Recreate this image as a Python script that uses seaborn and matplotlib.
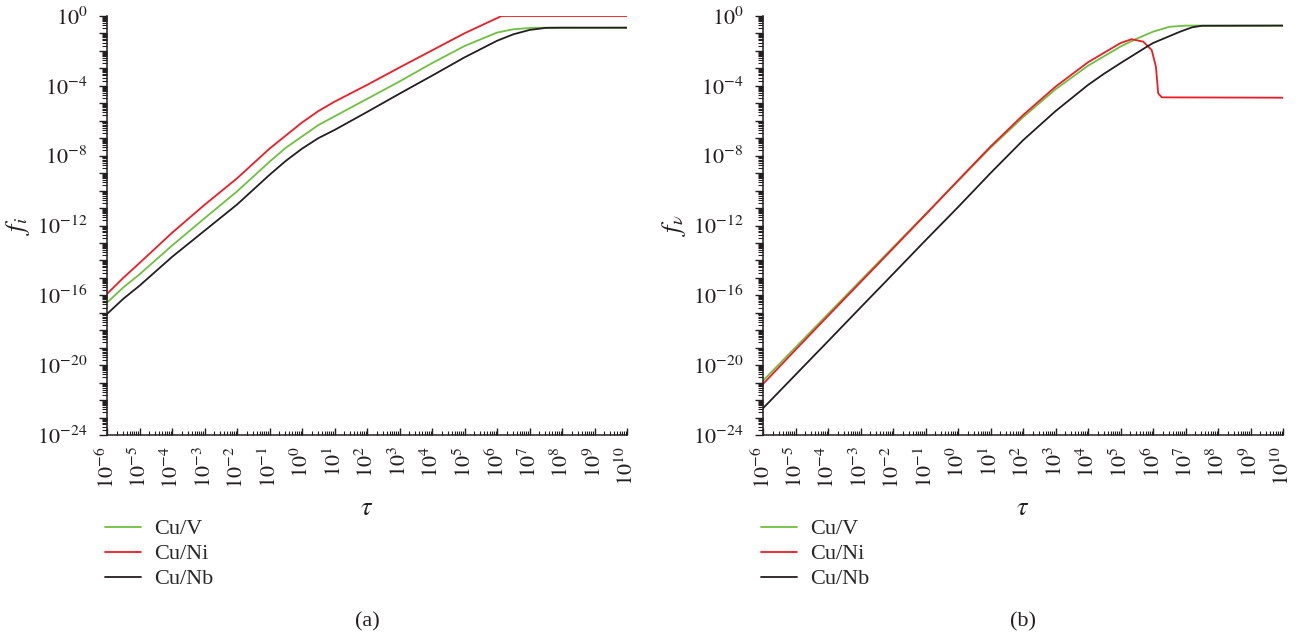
import numpy as np
import matplotlib
matplotlib.use("Agg")
import matplotlib.pyplot as plt
from matplotlib.ticker import LogLocator, FixedLocator, FuncFormatter, NullFormatter
import seaborn as sns

# ---- data (log10 values per series) ----
series_names = ["Cu/V", "Cu/Ni", "Cu/Nb"]
series_colors = ["#6fc040", "#ee1d25", "#231f20"]

# panel (a): interstitial fraction f_i vs tau
a_v_logtau = [-6, -5.5, -5, -4, -3, -2, -1, -0.5, 0, 0.5, 1, 2, 3, 4, 5, 6, 6.5, 7, 7.4, 10]
a_v_logf = [-16.42, -15.55, -14.8, -13.15, -11.59, -10.05, -8.35, -7.55, -6.9, -6.25, -5.75,
            -4.75, -3.75, -2.7, -1.72, -0.95, -0.76, -0.69, -0.67, -0.67]
a_ni_logtau = [-6, -5.5, -5, -4, -3, -2, -1, -0.5, 0, 0.5, 1, 2, 3, 4, 5, 6.14, 10]
a_ni_logf = [-15.92, -15.0, -14.15, -12.42, -10.82, -9.3, -7.6, -6.85, -6.1, -5.45, -4.91,
             -3.95, -2.95, -1.97, -0.99, 0.0, 0.0]
a_nb_logtau = [-6, -5.5, -5, -4, -3, -2, -1, -0.5, 0, 0.5, 1, 2, 3, 4, 5, 6, 6.5, 7, 7.5, 8, 10]
a_nb_logf = [-17.07, -16.2, -15.45, -13.8, -12.3, -10.8, -9.1, -8.3, -7.6, -7.0, -6.53,
             -5.5, -4.45, -3.42, -2.37, -1.42, -1.05, -0.8, -0.68, -0.67, -0.67]

# panel (b): vacancy fraction f_v vs tau
b_v_logtau = [-6, -5, -4, -3, -2, -1, 0, 1, 2, 3, 4, 5, 5.5, 6, 6.5, 7, 10]
b_v_logf = [-20.89, -18.98, -17.07, -15.16, -13.25, -11.35, -9.45, -7.55, -5.8,
            -4.2, -2.85, -1.75, -1.3, -0.9, -0.62, -0.55, -0.55]
b_ni_logtau = [-6, -5, -4, -3, -2, -1, 0, 1, 2, 3, 4, 5, 5.34, 5.7, 5.96, 6.09, 6.16, 6.27, 10]
b_ni_logf = [-21.08, -19.12, -17.18, -15.25, -13.32, -11.38, -9.42, -7.48, -5.68,
             -4.05, -2.65, -1.55, -1.33, -1.47, -1.95, -2.9, -4.43, -4.66, -4.68]
b_nb_logtau = [-6, -5, -4, -3, -2, -1, 0, 1, 2, 3, 4, 4.5, 5, 5.81, 6, 6.83, 7.2, 7.5, 10]
b_nb_logf = [-22.47, -20.55, -18.63, -16.7, -14.78, -12.85, -10.95, -9.0, -7.12,
             -5.45, -3.95, -3.3, -2.7, -1.76, -1.55, -0.9, -0.65, -0.56, -0.55]

x_decades = list(range(-6, 11))
y_decades = list(range(-24, 1))
y_labeled = [-24, -20, -16, -12, -8, -4, 0]

sns.set_style("ticks")
plt.rcParams["font.family"] = ["Liberation Serif", "DejaVu Serif"]
plt.rcParams["mathtext.fontset"] = "stix"

INK = "#231f20"
fig = plt.figure(figsize=(13.07, 6.37), dpi=100)
W, H = 1307, 637
ax_a = fig.add_axes([107 / W, 1 - 435 / H, 520 / W, 419 / H])
ax_b = fig.add_axes([763 / W, 1 - 435 / H, 520 / W, 419 / H])

panels = [
    (ax_a, [(a_v_logtau, a_v_logf), (a_ni_logtau, a_ni_logf), (a_nb_logtau, a_nb_logf)],
     r"$f_i$", "(a)"),
    (ax_b, [(b_v_logtau, b_v_logf), (b_ni_logtau, b_ni_logf), (b_nb_logtau, b_nb_logf)],
     r"$f_\nu$", "(b)"),
]

exp_fmt = FuncFormatter(lambda v, p: r"$10^{%d}$" % int(round(np.log10(v))))
y_fmt = FuncFormatter(lambda v, p: (r"$10^{%d}$" % int(round(np.log10(v))))
                      if int(round(np.log10(v))) in y_labeled else "")

for ax, curves, ylab, tag in panels:
    for (lt, lf), name, col in zip(curves, series_names, series_colors):
        sns.lineplot(x=10.0 ** np.array(lt), y=10.0 ** np.array(lf), ax=ax,
                     color=col, lw=1.3, label=name, estimator=None, sort=False)
    ax.set_xscale("log")
    ax.set_yscale("log")
    ax.set_xlim(1e-6, 1e10)
    ax.set_ylim(1e-24, 1e0)

    ax.xaxis.set_major_locator(FixedLocator([10.0 ** d for d in x_decades]))
    ax.xaxis.set_major_formatter(exp_fmt)
    ax.xaxis.set_minor_locator(LogLocator(base=10, subs=np.arange(2, 10), numticks=100))
    ax.xaxis.set_minor_formatter(NullFormatter())

    ax.yaxis.set_major_locator(FixedLocator([10.0 ** d for d in y_decades]))
    ax.yaxis.set_major_formatter(y_fmt)
    ax.yaxis.set_minor_locator(LogLocator(base=10, subs=np.arange(2, 10), numticks=100))
    ax.yaxis.set_minor_formatter(NullFormatter())

    ax.tick_params(axis="x", which="major", direction="in", length=5, width=1,
                   labelsize=16, labelrotation=90, pad=8, colors=INK)
    ax.tick_params(axis="x", which="minor", direction="in", length=3, width=0.8,
                   colors=INK)
    ax.tick_params(axis="y", which="major", direction="out", length=6, width=1,
                   labelsize=16, pad=8, colors=INK)
    ax.tick_params(axis="y", which="minor", direction="out", length=3.5, width=0.8,
                   colors=INK)

    sns.despine(ax=ax)
    for s in ("left", "bottom"):
        ax.spines[s].set_linewidth(1.1)
        ax.spines[s].set_color(INK)

    ax.set_ylabel(ylab, fontsize=19, color=INK)
    ax.yaxis.set_label_coords(-0.145, 0.5)
    ax.set_xlabel(r"$\tau$", fontsize=19, color=INK)
    ax.xaxis.set_label_coords(0.5, -0.15)

    ax.legend(loc="upper left", bbox_to_anchor=(-0.021, -0.179), frameon=False,
              fontsize=16, handlelength=1.6, handletextpad=0.6, labelspacing=0.2,
              borderaxespad=0)
    ax.text(0.5, -0.445, tag, transform=ax.transAxes, ha="center", va="center",
            fontsize=16, color=INK)

fig.savefig("out.png", dpi=100, facecolor="white")
